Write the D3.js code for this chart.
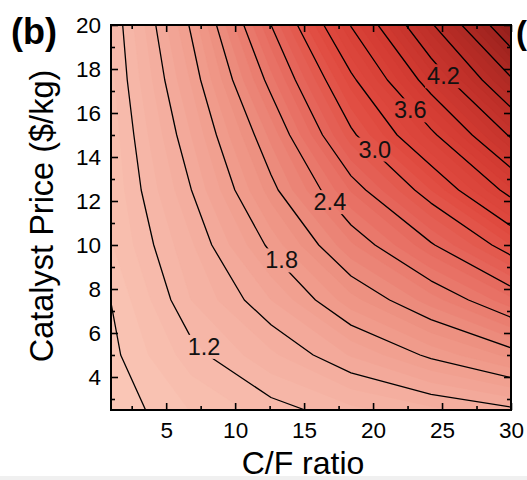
<!DOCTYPE html>
<html><head><meta charset="utf-8">
<script src="https://cdn.jsdelivr.net/npm/d3@7"></script>
<style>
html,body{margin:0;padding:0;background:#fff;overflow:hidden;}
svg{display:block;font-family:Arial,"Liberation Sans",sans-serif;}
</style></head><body>
<svg id="chart" width="527" height="480"></svg>
<script>
// ---- data: grid nodes (C/F ratio columns x catalyst price rows) ----
const cfRatio = [1, 6.8, 12.6, 18.4, 24.2, 30];
const catalystPrice = [2.5, 5, 7.5, 10, 12.5, 15, 17.5, 20];
const cost_p2_5  = [0.82, 1.005, 1.148, 1.27, 1.37, 1.47];
const cost_p5    = [0.865, 1.154, 1.377, 1.61, 1.83, 2.03];
const cost_p7_5  = [0.902, 1.30, 1.60, 1.96, 2.25, 2.57];
const cost_p10   = [0.99, 1.383, 1.834, 2.28, 2.68, 3.10];
const cost_p12_5 = [1.02, 1.497, 2.05, 2.61, 3.10, 3.68];
const cost_p15   = [1.04, 1.60, 2.23, 2.96, 3.55, 4.23];
const cost_p17_5 = [1.07, 1.71, 2.46, 3.25, 4.02, 4.77];
const cost_p20   = [1.094, 1.82, 2.70, 3.61, 4.47, 5.33];
const lineLevels = [0.9, 1.2, 1.5, 1.8, 2.1, 2.4, 2.7, 3.0, 3.3, 3.6, 3.9, 4.2, 4.5, 4.8, 5.1];
const labelLevels = ["1.2", "1.8", "2.4", "3.0", "3.6", "4.2"];
const labelCF    = [7.74, 13.37, 16.87, 20.13, 22.7, 25.1];
const labelPrice = [5.39, 9.32, 11.97, 14.36, 16.14, 17.69];
const xTicks = [5, 10, 15, 20, 25, 30];
const xMinor = [2.5, 7.5, 12.5, 17.5, 22.5, 27.5];
const yTicks = [4, 6, 8, 10, 12, 14, 16, 18, 20];
const yMinor = [3, 5, 7, 9, 11, 13, 15, 17, 19];

const svg = d3.select("#chart");
const L = 111, R = 511, T = 25, B = 410;
const x = d3.scaleLinear().domain([1, 30]).range([L, R]);
const y = d3.scaleLinear().domain([2.5, 20]).range([B, T]);

const rows = [cost_p2_5, cost_p5, cost_p7_5, cost_p10, cost_p12_5, cost_p15, cost_p17_5, cost_p20];
const values = rows.flat();
const nx = cfRatio.length, ny = catalystPrice.length;
const xi = d3.scaleLinear().domain(d3.range(nx)).range(cfRatio);
const yi = d3.scaleLinear().domain(d3.range(ny)).range(catalystPrice);
const proj = d3.geoTransform({
  point: function(gx, gy) { this.stream.point(x(xi(gx - 0.5)), y(yi(gy - 0.5))); }
});
const path = d3.geoPath(proj);

const color = d3.scaleLinear()
  .domain([0.8, 1.4, 2.0, 2.6, 3.2, 3.8, 4.4, 5.0, 5.4])
  .range(["#fac8b8", "#f4b0a1", "#ee9484", "#e76e62", "#e04b40", "#d43c33", "#bf3029", "#a42520", "#8e1d1a"])
  .clamp(true);

const defs = svg.append("defs");
defs.append("clipPath").attr("id", "plotclip")
  .append("rect").attr("x", L).attr("y", T).attr("width", R - L).attr("height", B - T);

// bottom grey strip of the page
svg.append("rect").attr("x", 0).attr("y", 476).attr("width", 527).attr("height", 4).attr("fill", "#f0f0f0");

const plot = svg.append("g").attr("clip-path", "url(#plotclip)");
const fillStep = 0.1;
const fillLevels = d3.range(0.8, 5.45, fillStep);
plot.append("rect").attr("x", L).attr("y", T).attr("width", R - L).attr("height", B - T)
  .attr("fill", color(0.8));
const fills = d3.contours().size([nx, ny]).thresholds(fillLevels)(values);
plot.append("g").selectAll("path").data(fills).join("path")
  .attr("d", path)
  .attr("fill", d => color(d.value + fillStep / 2))
  .attr("stroke", d => color(d.value + fillStep / 2))
  .attr("stroke-width", 0.5);

// labels (placed first to build the mask)
const labelG = svg.append("g");
const labels = labelG.selectAll("text").data(labelLevels).join("text")
  .attr("x", (d, i) => x(labelCF[i]))
  .attr("y", (d, i) => y(labelPrice[i]))
  .attr("dy", "0.36em")
  .attr("text-anchor", "middle")
  .attr("font-size", 23.5)
  .attr("fill", "#111")
  .text(d => d);

const mask = defs.append("mask").attr("id", "lblmask")
  .attr("maskUnits", "userSpaceOnUse").attr("x", 0).attr("y", 0).attr("width", 527).attr("height", 480);
mask.append("rect").attr("x", 0).attr("y", 0).attr("width", 527).attr("height", 480).attr("fill", "#fff");
labels.each(function() {
  const b = this.getBBox();
  mask.append("rect").attr("x", b.x - 2).attr("y", b.y + 1).attr("width", b.width + 4).attr("height", b.height - 2).attr("fill", "#000");
});

const lines = d3.contours().size([nx, ny]).thresholds(lineLevels)(values);
plot.append("g").attr("mask", "url(#lblmask)").selectAll("path").data(lines).join("path")
  .attr("d", path)
  .attr("fill", "none")
  .attr("stroke", "#000")
  .attr("stroke-width", 1.3)
  .attr("stroke-linejoin", "round");
labelG.raise();

// axes with inward ticks
function styleAxis(g) {
  g.select(".domain").remove();
  g.selectAll(".tick line").attr("stroke", "#000").attr("stroke-width", 1.6);
  g.selectAll(".tick text").attr("fill", "#000").attr("font-size", 22.5).attr("font-family", "Arial, 'Liberation Sans', sans-serif");
}
svg.append("g").attr("transform", `translate(0,${B})`)
  .call(d3.axisBottom(x).tickValues(xTicks).tickSize(-7).tickPadding(12).tickFormat(d3.format("d"))).call(styleAxis);
svg.append("g").attr("transform", `translate(0,${B})`)
  .call(d3.axisBottom(x).tickValues(xMinor).tickSize(-4).tickFormat("")).call(styleAxis);
svg.append("g").attr("transform", `translate(0,${T})`)
  .call(d3.axisTop(x).tickValues(xTicks).tickSize(-7).tickFormat("")).call(styleAxis);
svg.append("g").attr("transform", `translate(0,${T})`)
  .call(d3.axisTop(x).tickValues(xMinor).tickSize(-4).tickFormat("")).call(styleAxis);
svg.append("g").attr("transform", `translate(${L},0)`)
  .call(d3.axisLeft(y).tickValues(yTicks).tickSize(-7).tickPadding(10).tickFormat(d3.format("d"))).call(styleAxis);
svg.append("g").attr("transform", `translate(${L},0)`)
  .call(d3.axisLeft(y).tickValues(yMinor).tickSize(-4).tickFormat("")).call(styleAxis);
svg.append("g").attr("transform", `translate(${R},0)`)
  .call(d3.axisRight(y).tickValues(yTicks).tickSize(-7).tickFormat("")).call(styleAxis);
svg.append("g").attr("transform", `translate(${R},0)`)
  .call(d3.axisRight(y).tickValues(yMinor).tickSize(-4).tickFormat("")).call(styleAxis);

// frame
svg.append("rect").attr("x", L).attr("y", T).attr("width", R - L).attr("height", B - T)
  .attr("fill", "none").attr("stroke", "#000").attr("stroke-width", 2);

// titles
svg.append("text").attr("x", 303).attr("y", 474).attr("text-anchor", "middle")
  .attr("font-size", 32).attr("fill", "#000").text("C/F ratio");
svg.append("text").attr("transform", "translate(53,216) rotate(-90)").attr("text-anchor", "middle")
  .attr("font-size", 32.5).attr("fill", "#000").text("Catalyst Price ($/kg)");
svg.append("text").attr("x", 11).attr("y", 44).attr("font-size", 36).attr("font-weight", "bold")
  .attr("fill", "#000").text("(b)");
svg.append("text").attr("x", 516).attr("y", 44).attr("font-size", 33).attr("font-weight", "bold")
  .attr("fill", "#000").text("(");
</script>
</body></html>
